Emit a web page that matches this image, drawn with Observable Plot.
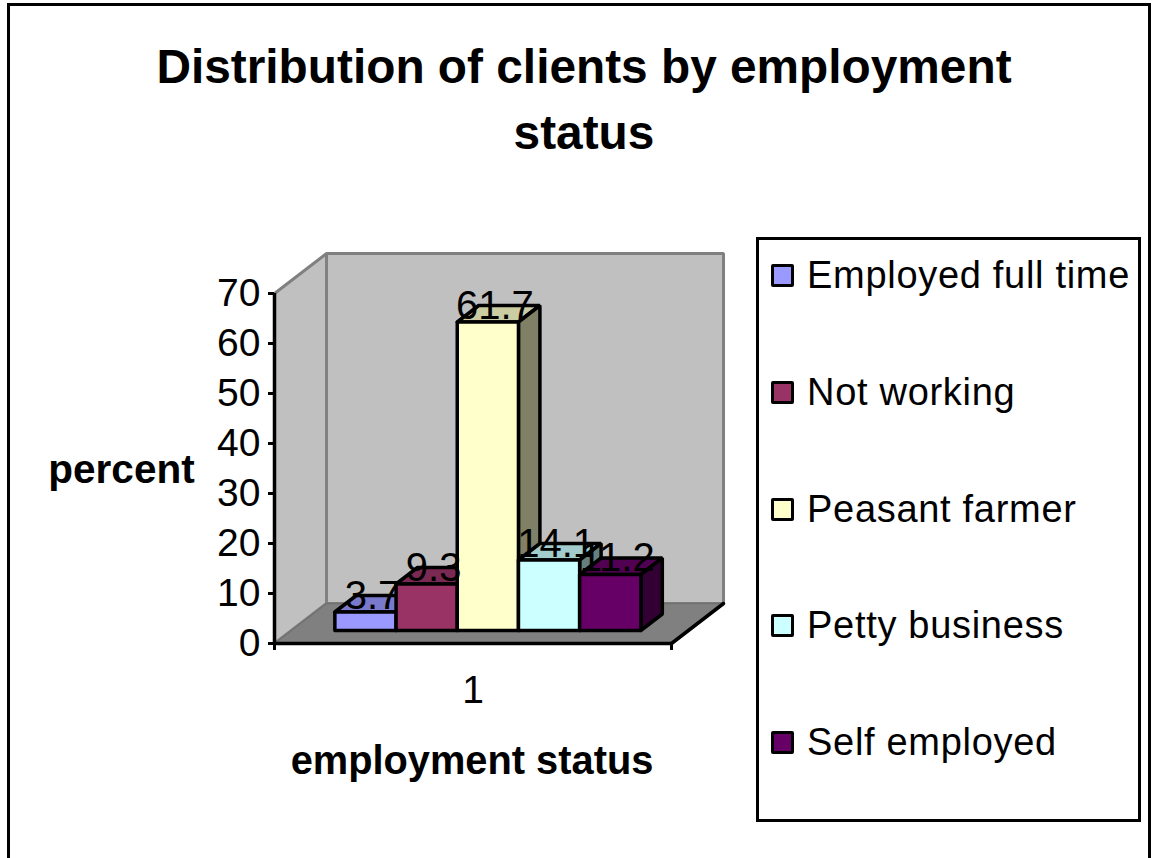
<!DOCTYPE html>
<html>
<head>
<meta charset="utf-8">
<script src="https://cdn.jsdelivr.net/npm/d3@7"></script>
<script src="https://cdn.jsdelivr.net/npm/@observablehq/plot@0.6"></script>
<style>
html,body{margin:0;padding:0;background:#fff;overflow:hidden}
#page{position:relative;width:1153px;height:858px;font-family:"Liberation Sans",Arial,sans-serif;color:#000}
#frame{position:absolute;left:7px;top:3px;width:1138px;height:860px;border:3px solid #000}
#title{position:absolute;left:0;top:34px;width:1168px;text-align:center;font-weight:bold;font-size:47.8px;line-height:66px}
#legend{position:absolute;left:756px;top:237px;width:379px;height:579px;border:3px solid #000;background:#fff}
.item{position:absolute;left:12px;height:0;display:flex;align-items:center;white-space:nowrap;font-size:38px;letter-spacing:.7px}
.sw{width:17px;height:17px;border:3px solid #000;border-radius:2px;margin-right:13px;flex:none}
#chart{position:absolute;left:0;top:0}
</style>
</head>
<body>
<div id="page">
<div id="frame"></div>
<div id="chart"></div>
<div id="title">Distribution of clients by employment<br>status</div>
<div id="legend"></div>
</div>
<script>
const categories = ["Employed full time","Not working","Peasant farmer","Petty business","Self employed"];
const values = [3.7, 9.3, 61.7, 14.1, 11.2];
const frontColors = ["#9999FF","#993366","#FFFFCC","#CCFFFF","#660066"];
const topColors = ["#7A7ACC","#7A2952","#CCCCA3","#A3CCCC","#520052"];
const sideColors = ["#4D4D80","#4D1A33","#808066","#668080","#330033"];
const yTicks = [0,10,20,30,40,50,60,70];
const xLabel = "employment status";
const yLabel = "percent";
const xCategoryLabel = "1";

// projection parameters, in data units
const xMax = 6.487, yMax = 70;
const depthX = 0.85, depthY = 8;
const barStart = 0.71, depthFront = 0.325, depthBack = 0.7375;
const P = (x, v, d) => ({x: x + d * depthX, y: v + d * depthY});
const poly = (pts, fill, stroke, strokeWidth) =>
  Plot.line([...pts, pts[0]], {x: "x", y: "y", fill, stroke, strokeWidth, strokeLinejoin: "miter"});

const marks = [
  poly([P(0,0,1),P(xMax,0,1),P(xMax,yMax,1),P(0,yMax,1)], "#C0C0C0", "#808080", 3),
  poly([P(0,0,0),P(0,yMax,0),P(0,yMax,1),P(0,0,1)], "#C0C0C0", "#808080", 3),
  poly([P(0,0,0),P(xMax,0,0),P(xMax,0,1),P(0,0,1)], "#808080", "#707070", 1.5),
  Plot.line([P(xMax,0,0),P(xMax,0,1)], {x:"x",y:"y",stroke:"#000",strokeWidth:3.5})
];
values.forEach((v,i) => {
  const a = barStart + i, b = a + 1;
  marks.push(
    poly([P(a,v,depthFront),P(b,v,depthFront),P(b,v,depthBack),P(a,v,depthBack)], topColors[i], "#000", 3.5),
    poly([P(b,0,depthFront),P(b,v,depthFront),P(b,v,depthBack),P(b,0,depthBack)], sideColors[i], "#000", 3.5),
    poly([P(a,0,depthFront),P(b,0,depthFront),P(b,v,depthFront),P(a,v,depthFront)], frontColors[i], "#000", 3.5)
  );
});
const labels = values.map((v,i) => ({...P(barStart + i + 0.5, v, depthFront), t: String(v)}));

const chart = Plot.plot({
  width: 1153, height: 858,
  marginLeft: 274, marginRight: 482, marginTop: 293, marginBottom: 215,
  style: {background: "transparent", fontFamily: "Liberation Sans, Arial, sans-serif", color: "#000"},
  x: {domain: [0, xMax]},
  y: {domain: [0, yMax]},
  marks: [
    ...marks,
    Plot.ruleX([0], {y1: 0, y2: yMax, strokeWidth: 3.5, stroke: "#000"}),
    Plot.ruleY([0], {x1: 0, x2: xMax, strokeWidth: 3.5, stroke: "#000"}),
    Plot.axisY({ticks: yTicks, tickSize: 6, tickPadding: 8, strokeWidth: 3, stroke: "#000", fontSize: 39, label: null}),
    Plot.axisX({ticks: [0, xMax], tickSize: 7, strokeWidth: 3, stroke: "#000", tickFormat: () => "", label: null}),
    Plot.axisX({ticks: [xMax / 2], tickSize: 0, tickPadding: 32, fontSize: 39, tickFormat: () => xCategoryLabel, label: null}),
    Plot.text(labels, {x: "x", y: "y", text: "t", fontSize: 40, dx: 7, dy: -16, fill: "#000", stroke: "none"}),
    Plot.text([xLabel], {frameAnchor: "bottom", text: d => d, fontSize: 39.8, fontWeight: "bold", dy: 130, dx: -1, fill: "#000"}),
    Plot.text([yLabel], {frameAnchor: "left", text: d => d, fontSize: 40.5, fontWeight: "bold", textAnchor: "middle", dx: -153, dy: 2, fill: "#000"})
  ]
});
document.getElementById("chart").appendChild(chart);

const centers = [38, 155, 272, 388, 505];
const legend = document.getElementById("legend");
categories.forEach((c,i) => {
  const el = document.createElement("div");
  el.className = "item";
  el.style.top = centers[i] - 3 + "px";
  const s = document.createElement("span");
  s.className = "sw"; s.style.background = frontColors[i];
  el.appendChild(s);
  el.appendChild(document.createTextNode(c));
  legend.appendChild(el);
});
</script>
</body>
</html>
